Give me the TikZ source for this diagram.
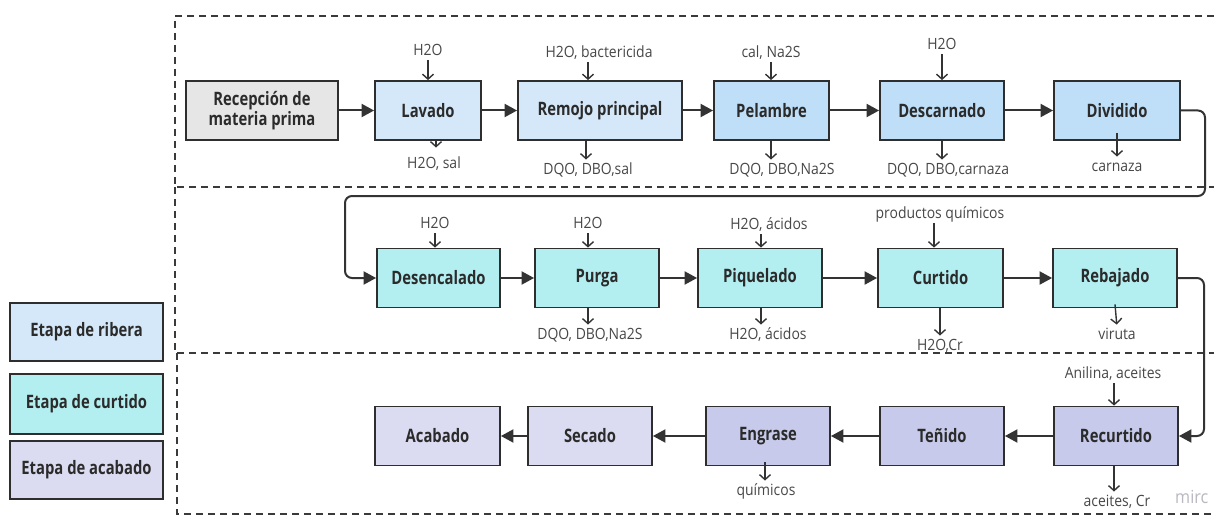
\documentclass[tikz,border=0pt]{standalone}
\usepackage{fontspec}
\setmainfont{Open Sans}[FakeStretch=0.9]
\newfontfamily\labfont{Open Sans}[FakeStretch=0.8]
\usetikzlibrary{arrows.meta}
\definecolor{ribL}{HTML}{D5E8F9}
\definecolor{ribM}{HTML}{BFDEF7}
\definecolor{curC}{HTML}{B3EEF1}
\definecolor{acaL}{HTML}{DBDBF1}
\definecolor{acaM}{HTML}{C7CAEA}
\definecolor{recC}{HTML}{E6E6E6}
\definecolor{bordc}{HTML}{2E2E2E}
\definecolor{txtc}{HTML}{2B2B2B}
\definecolor{lblc}{HTML}{474747}
\definecolor{arrc}{HTML}{333333}
\definecolor{framec}{HTML}{3A3A3A}
\definecolor{wmc}{HTML}{B8B8C0}
\tikzset{
  box/.style={draw=bordc, line width=1.8pt, minimum height=59pt, inner sep=0pt,
    font=\labfont\bfseries\fontsize{18.5}{20}\selectfont, text=txtc, align=center},
  lbl/.style={font=\fontsize{15.5}{17}\selectfont, text=lblc, inner sep=0pt,
    text height=11.5pt, text depth=3pt},
  flow/.style={draw=arrc, line width=2pt, -{Triangle[length=12.5pt,width=13pt]}},
  io/.style={draw=arrc, line width=1.4pt, -{Straight Barb[length=5pt,width=11pt]}},
  iin/.style={io, shorten <=2pt},
  iout/.style={io, shorten >=3pt},
  frame/.style={draw=framec, line width=1.3pt, dash pattern=on 7pt off 5pt}
}
\begin{document}
\begin{tikzpicture}[x=1pt,y=-1pt]
\useasboundingbox (0,0) rectangle (1214,516);
% frames
\draw[frame] (1214,16) -- (175,16) -- (175,187) -- (1214,187);
\draw[frame] (175,187) -- (175,353) -- (1214,353);
\draw[frame] (177,353) -- (177,514) -- (1214,514);
% legend
\node[box, fill=ribL, minimum width=153pt, minimum height=58pt] (lRib) at (86.5,332) {Etapa de ribera};
\node[box, fill=curC, minimum width=153pt, minimum height=60pt] (lCur) at (86.5,404) {Etapa de curtido};
\node[box, fill=acaL, minimum width=153pt, minimum height=58pt] (lAca) at (86.5,470) {Etapa de acabado};
% row 1
\node[box, fill=recC, minimum width=152pt] (rec) at (262,110.5) {Recepción de\\materia prima};
\node[box, fill=ribL, minimum width=106pt] (lav) at (428,110.5) {Lavado};
\node[box, fill=ribL, minimum width=164pt] (rem) at (600,110.5) {Remojo principal};
\node[box, fill=ribM, minimum width=115pt] (pel) at (771.5,110.5) {Pelambre};
\node[box, fill=ribM, minimum width=124pt] (des) at (942,110.5) {Descarnado};
\node[box, fill=ribM, minimum width=126pt] (div) at (1117,110.5) {Dividido};
% row 2
\node[box, fill=curC, minimum width=123pt] (dese) at (438.5,278) {Desencalado};
\node[box, fill=curC, minimum width=124pt] (pur) at (597,278) {Purga};
\node[box, fill=curC, minimum width=124pt] (piq) at (760,278) {Piquelado};
\node[box, fill=curC, minimum width=125pt] (cur) at (940.5,278) {Curtido};
\node[box, fill=curC, minimum width=124pt] (reb) at (1115,278) {Rebajado};
% row 3
\node[box, fill=acaL, minimum width=125pt] (aca) at (437.5,436) {Acabado};
\node[box, fill=acaL, minimum width=124pt] (sec) at (590,436) {Secado};
\node[box, fill=acaM, minimum width=124pt] (eng) at (768,436) {Engrase};
\node[box, fill=acaM, minimum width=124pt] (ten) at (942,436) {Teñido};
\node[box, fill=acaM, minimum width=124pt] (recu) at (1116,436) {Recurtido};
% flow arrows
\draw[flow] (rec) -- (lav);
\draw[flow] (lav) -- (rem);
\draw[flow] (rem) -- (pel);
\draw[flow] (pel) -- (des);
\draw[flow] (des) -- (div);
\draw[flow] (dese) -- (pur);
\draw[flow] (pur) -- (piq);
\draw[flow] (piq) -- (cur);
\draw[flow] (cur) -- (reb);
\draw[flow] (recu) -- (ten);
\draw[flow] (ten) -- (eng);
\draw[flow] (eng) -- (sec);
\draw[flow] (sec) -- (aca);
\coordinate (k1) at (1205,196);
\coordinate (k2) at (345,196);
\coordinate (k3) at (1204,436);
\draw[flow, rounded corners=7pt] (div.east) -| (k1) -- (k2) |- (dese.west);
\draw[flow, rounded corners=7pt] (reb.east) -| (k3) -- (recu.east);
% inputs / outputs row 1
\node[lbl] (iLav) at (428,51) {H2O};
\node[lbl] (iRem) at (599,53) {H2O, bactericida};
\node[lbl] (iPel) at (771,53) {cal, Na2S};
\node[lbl] (iDes) at (942,45) {H2O};
\draw[iin] (iLav.south) -- (iLav.south |- lav.north);
\draw[iin] ([xshift=-11pt]iRem.south) -- ([xshift=-11pt]iRem.south |- rem.north);
\draw[iin] (iPel.south) -- (iPel.south |- pel.north);
\draw[iin] (iDes.south) -- (iDes.south |- des.north);
\node[lbl] (oLav) at (434,164) {H2O, sal};
\node[lbl] (oRem) at (588,170) {DQO, DBO,sal};
\node[lbl] (oPel) at (782,170) {DQO, DBO,Na2S};
\node[lbl] (oDes) at (948,170) {DQO, DBO,carnaza};
\node[lbl] (oDiv) at (1117,167) {carnaza};
\draw[io] ([xshift=2pt]oLav.north |- lav.south) -- ([xshift=2pt,yshift=9pt]oLav.north);
\draw[iout] ([xshift=-2pt]oRem.north |- rem.south) -- ([xshift=-2pt]oRem.north);
\draw[iout] ([xshift=-11pt]oPel.north |- pel.south) -- ([xshift=-11pt]oPel.north);
\draw[iout] ([xshift=-6pt]oDes.north |- des.south) -- ([xshift=-6pt]oDes.north);
\draw[iout] ([yshift=8pt]oDiv.north |- div.south) -- (oDiv.north);
% inputs / outputs row 2
\node[lbl] (iDese) at (435,224) {H2O};
\node[lbl] (iPur) at (588,224) {H2O};
\node[lbl] (iPiq) at (769,225) {H2O, ácidos};
\node[lbl] (iCur) at (940,214) {productos químicos};
\draw[iin] (iDese.south) -- (iDese.south |- dese.north);
\draw[iin] (iPur.south) -- (iPur.south |- pur.north);
\draw[iin] ([xshift=-8pt]iPiq.south) -- ([xshift=-8pt]iPiq.south |- piq.north);
\draw[iin] ([xshift=-6pt]iCur.south) -- ([xshift=-6pt]iCur.south |- cur.north);
\node[lbl] (oPur) at (590,335) {DQO, DBO,Na2S};
\node[lbl] (oPiq) at (768,335) {H2O, ácidos};
\node[lbl] (oCur) at (940,346) {H2O,Cr};
\node[lbl] (oReb) at (1117,335) {viruta};
\draw[iout] ([xshift=-2pt]oPur.north |- pur.south) -- ([xshift=-2pt]oPur.north);
\draw[iout] ([xshift=-7pt]oPiq.north |- piq.south) -- ([xshift=-7pt]oPiq.north);
\draw[iout] (oCur.north |- cur.south) -- (oCur.north);
\draw[iout] ([xshift=-2pt,yshift=4pt]oReb.north |- reb.south) -- (oReb.north);
% inputs / outputs row 3
\node[lbl] (iRecu) at (1113,374) {Anilina, aceites};
\draw[iin] ([xshift=1pt]iRecu.south) -- ([xshift=1pt]iRecu.south |- recu.north);
\node[lbl] (oRecu) at (1117,502) {aceites, Cr};
\node[lbl] (oEng) at (766,491) {químicos};
\draw[iout] ([xshift=-3pt]oRecu.north |- recu.south) -- ([xshift=-3pt]oRecu.north);
\draw[iout] ([xshift=-1pt,yshift=4pt]oEng.north |- eng.south) -- ([xshift=-1pt]oEng.north);
% watermark
\node[anchor=west, inner sep=0pt, text=wmc, font=\fontsize{18}{20}\selectfont] (wm) at (1175,497) {mirc};
\end{tikzpicture}
\end{document}
